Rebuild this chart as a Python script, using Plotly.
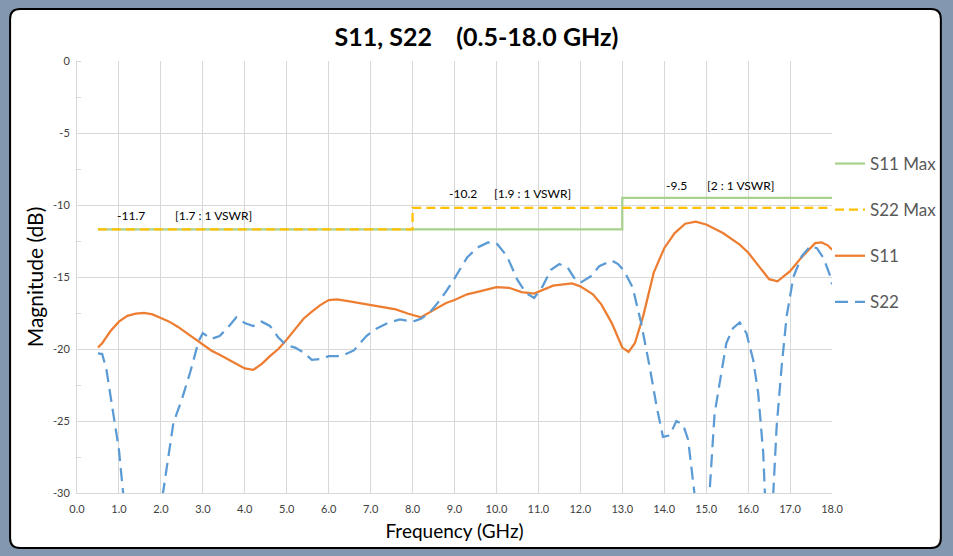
import plotly.graph_objects as go

# ---------------- data ----------------
s11_freq = [0.5, 0.6, 0.8, 1.0, 1.2, 1.4, 1.6, 1.8, 2.0, 2.2, 2.4, 2.6, 2.8, 3.0, 3.2, 3.4, 3.6,
            3.8, 4.0, 4.2, 4.4, 4.6, 4.8, 5.0, 5.2, 5.4, 5.6, 5.8, 6.0, 6.2, 6.5, 6.8, 7.0, 7.3,
            7.6, 7.9, 8.2, 8.5, 8.8, 9.0, 9.3, 9.6, 10.0, 10.3, 10.6, 10.9, 11.1, 11.35, 11.65,
            11.8, 12.0, 12.3, 12.5, 12.75, 13.0, 13.15, 13.3, 13.5, 13.75, 14.0, 14.25, 14.5,
            14.75, 15.0, 15.4, 15.8, 16.0, 16.25, 16.5, 16.7, 17.0, 17.3, 17.6, 17.75, 17.9, 18.0]
s11_db = [-19.9, -19.6, -18.75, -18.1, -17.7, -17.55, -17.5, -17.6, -17.85, -18.1, -18.45,
          -18.85, -19.3, -19.7, -20.1, -20.4, -20.7, -21.0, -21.35, -21.45, -21.05, -20.5,
          -20.0, -19.35, -18.6, -17.9, -17.4, -16.95, -16.6, -16.55, -16.7, -16.85, -17.0,
          -17.1, -17.25, -17.55, -17.8, -17.3, -16.8, -16.6, -16.2, -16.0, -15.7, -15.75,
          -16.05, -16.15, -15.9, -15.6, -15.5, -15.45, -15.65, -16.2, -16.9, -18.2, -19.9,
          -20.2, -19.6, -17.7, -14.7, -13.0, -11.95, -11.3, -11.15, -11.35, -11.95, -12.75,
          -13.3, -14.25, -15.15, -15.3, -14.6, -13.55, -12.65, -12.6, -12.8, -13.1]

s22_freq = [0.5, 0.6, 0.7, 0.8, 0.9, 1.0, 1.1, 1.3, 1.6, 1.9, 2.05, 2.2, 2.3, 2.5, 2.7, 2.9,
            3.0, 3.2, 3.4, 3.6, 3.8, 4.0, 4.2, 4.4, 4.6, 4.8, 5.0, 5.2, 5.4, 5.6, 5.8, 6.0,
            6.3, 6.6, 6.9, 7.1, 7.4, 7.7, 8.0, 8.2, 8.4, 8.6, 8.8, 9.0, 9.3, 9.55, 9.8, 10.0,
            10.25, 10.5, 10.7, 10.9, 11.1, 11.3, 11.5, 11.7, 11.85, 12.0, 12.25, 12.45, 12.75,
            12.9, 13.05, 13.25, 13.45, 13.65, 13.82, 13.97, 14.13, 14.29, 14.45, 14.57, 14.72,
            14.9, 15.08, 15.2, 15.32, 15.48, 15.64, 15.8, 15.96, 16.12, 16.24, 16.36, 16.4,
            16.5, 16.6, 16.68, 16.8, 16.92, 17.08, 17.28, 17.48, 17.64, 17.8, 17.96, 18.0]
s22_db = [-20.3, -20.35, -21.4, -23.3, -25.1, -27.0, -30.0, -33.0, -34.5, -33.0, -30.0, -27.0,
          -25.1, -23.5, -21.6, -19.45, -18.9, -19.3, -19.1, -18.5, -17.8, -18.2, -18.4, -18.1,
          -18.4, -19.2, -19.75, -19.9, -20.25, -20.75, -20.7, -20.5, -20.5, -20.1, -19.1,
          -18.65, -18.2, -17.95, -18.1, -17.9, -17.5, -16.8, -16.0, -15.1, -13.65, -12.95,
          -12.6, -12.65, -13.55, -15.2, -16.1, -16.45, -15.65, -14.5, -14.1, -14.35, -15.05,
          -15.4, -14.95, -14.25, -13.85, -14.1, -14.6, -15.75, -18.2, -21.2, -24.0, -26.1,
          -26.0, -25.0, -25.25, -26.3, -30.0, -33.0, -30.0, -24.5, -22.3, -19.6, -18.55,
          -18.15, -18.9, -20.75, -23.05, -27.2, -30.0, -32.0, -30.0, -25.4, -21.2, -17.7,
          -15.0, -13.55, -12.85, -13.0, -13.7, -14.95, -15.5]

s11max_freq = [0.5, 13.0, 13.0, 18.0]
s11max_db = [-11.7, -11.7, -9.5, -9.5]
s22max_freq = [0.5, 8.0, 8.0, 18.0]
s22max_db = [-11.7, -11.7, -10.2, -10.2]

limit_labels = ["-11.7", "[1.7 : 1 VSWR]", "-10.2", "[1.9 : 1 VSWR]", "-9.5", "[2 : 1 VSWR]"]

x_ticks = [float(v) for v in range(0, 19)]
x_ticktext = [f"{v:.1f}" for v in x_ticks]
y_ticks = [-30, -25, -20, -15, -10, -5, 0]
y_ticktext = ["-30", "-25", "-20", "-15", "-10", "-5", "0"]

FONT = "Lato, Calibri, 'Open Sans', sans-serif"

# ---------------- figure ----------------
fig = go.Figure()
fig.add_trace(go.Scatter(x=s11max_freq, y=s11max_db, mode="lines", name="S11 Max",
                         legendgroup="a", line=dict(color="#A9D18E", width=2.25)))
fig.add_trace(go.Scatter(x=s22max_freq, y=s22max_db, mode="lines", name="S22 Max",
                         legendgroup="b", line=dict(color="#FFC000", width=2.25, dash="9px,5px")))
fig.add_trace(go.Scatter(x=s11_freq, y=s11_db, mode="lines", name="S11",
                         legendgroup="c", line=dict(color="#ED7D31", width=2.25)))
fig.add_trace(go.Scatter(x=s22_freq, y=s22_db, mode="lines", name="S22",
                         legendgroup="d", line=dict(color="#5B9BD5", width=2.25, dash="13px,7px")))

# limit annotations
ann_pos = [(1.28, -10.7), (3.26, -10.7), (9.2, -9.17), (10.87, -9.17), (14.3, -8.68), (15.82, -8.68)]
for txt, (ax, ay) in zip(limit_labels, ann_pos):
    fig.add_annotation(x=ax, y=ay, text=txt, showarrow=False,
                       font=dict(family=FONT, size=12, color="#000000"))

# white rounded card with black border (paper coords of plot area: x 77..833, y 61..493)
def px2x(p):
    return (p - 77) / 756.0

def py2y(p):
    return (493 - p) / 432.0

L, R, T, B, rad = 10, 942, 9, 548, 10
path = (f"M {px2x(L + rad)},{py2y(T)} L {px2x(R - rad)},{py2y(T)} "
        f"Q {px2x(R)},{py2y(T)} {px2x(R)},{py2y(T + rad)} "
        f"L {px2x(R)},{py2y(B - rad)} Q {px2x(R)},{py2y(B)} {px2x(R - rad)},{py2y(B)} "
        f"L {px2x(L + rad)},{py2y(B)} Q {px2x(L)},{py2y(B)} {px2x(L)},{py2y(B - rad)} "
        f"L {px2x(L)},{py2y(T + rad)} Q {px2x(L)},{py2y(T)} {px2x(L + rad)},{py2y(T)} Z")
fig.add_shape(type="path", path=path, xref="paper", yref="paper", layer="below",
              fillcolor="#FFFFFF", line=dict(color="#000000", width=2))

fig.update_layout(
    width=953, height=556,
    margin=dict(l=77, r=120, t=61, b=63),
    paper_bgcolor="#8497B0",
    plot_bgcolor="#FFFFFF",
    font=dict(family=FONT, color="#404040"),
    title=dict(text="S11, S22\u00a0\u00a0\u00a0\u00a0(0.5-18.0 GHz)", x=0.5, xref="container",
               y=1 - 37 / 556, yref="container", xanchor="center", yanchor="middle",
               font=dict(family=FONT, size=25, color="#000000", weight="bold")),
    showlegend=True,
    legend=dict(x=px2x(830), y=py2y(146), xanchor="left", yanchor="top",
                font=dict(family=FONT, size=17, color="#595959"),
                bgcolor="rgba(0,0,0,0)", traceorder="grouped", tracegroupgap=21),
    xaxis=dict(range=[0, 18], tickvals=x_ticks, ticktext=x_ticktext, showgrid=True,
               gridcolor="#D9D9D9", gridwidth=1, zeroline=False, showline=True,
               linecolor="#D9D9D9", linewidth=1, ticks="", ticklabelstandoff=6,
               tickfont=dict(size=11, color="#404040"),
               title=dict(text="Frequency (GHz)", standoff=10,
                          font=dict(family=FONT, size=19, color="#000000"))),
    yaxis=dict(range=[-30, 0], tickvals=y_ticks, ticktext=y_ticktext, showgrid=True,
               gridcolor="#D9D9D9", gridwidth=1, zeroline=False, showline=True,
               linecolor="#D9D9D9", linewidth=1, ticks="", ticklabelstandoff=4,
               tickfont=dict(size=11, color="#404040"),
               minor=dict(dtick=2.5, ticks="inside", ticklen=4, tickcolor="#D9D9D9", showgrid=False),
               title=dict(text="Magnitude (dB)", standoff=3,
                          font=dict(family=FONT, size=21, color="#000000"))),
)

fig.write_html("out.html", include_plotlyjs=True, config={"displayModeBar": False},
               post_script="document.body.style.margin='0';document.body.style.padding='0';"
                           "document.body.style.overflow='hidden';")
